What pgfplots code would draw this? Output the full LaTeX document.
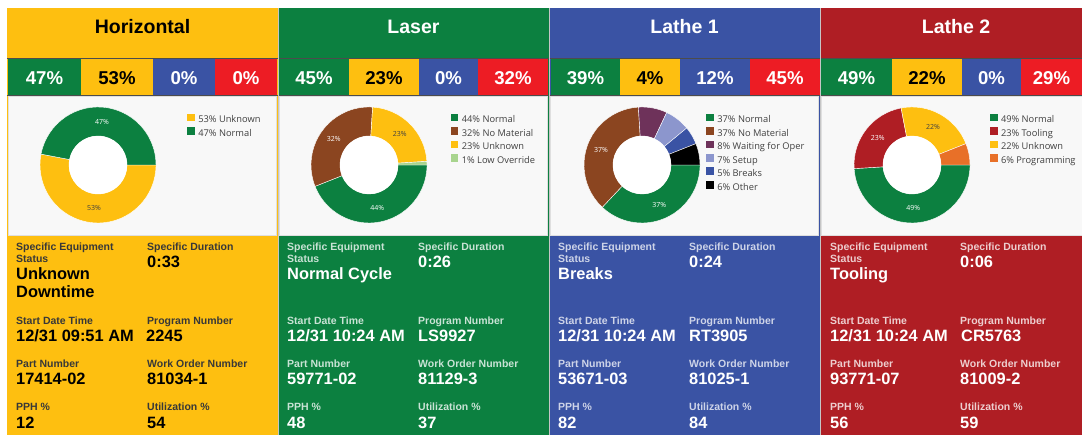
\documentclass[border=0pt]{standalone}
\usepackage{pgfplots}
\pgfplotsset{compat=1.18}
\usepackage{fontspec}
\setmainfont{Liberation Sans}
\newfontfamily\seg{Open Sans}
\definecolor{cY}{HTML}{FEBF10}
\definecolor{cG}{HTML}{0C8040}
\definecolor{cB}{HTML}{3A53A4}
\definecolor{cR}{HTML}{ED1C24}
\definecolor{cRd}{HTML}{AF1E24}
\definecolor{cBr}{HTML}{8B4520}
\definecolor{cLG}{HTML}{A8D48E}
\definecolor{cPu}{HTML}{6E325A}
\definecolor{cSe}{HTML}{8C96CD}
\definecolor{cOr}{HTML}{E87028}
\definecolor{cBg}{HTML}{F8F8F8}
\newcommand\fs[1]{\fontsize{#1}{#1}\selectfont}
% donut slice between cumulative percentages #1 and #2, clockwise from 3 o'clock
\newcommand\slice[3]{\fill[#3, draw=white, line width=0.4pt] (axis cs:{58*cos(-3.6*#1)},{58*sin(-3.6*#1)}) arc[start angle={-3.6*#1}, end angle={-3.6*#2}, radius=58] -- (axis cs:{29*cos(-3.6*#2)},{29*sin(-3.6*#2)}) arc[start angle={-3.6*#2}, end angle={-3.6*#1}, radius=29] -- cycle;}
\newcommand\slbl[3]{\node[font=\seg\fs{7}, text=#3, inner sep=0] at (axis cs:{43.5*cos(-3.6*#1)},{43.5*sin(-3.6*#1)}) {#2};}
\newcommand\hole{\fill[white] (axis cs:0,0) circle[radius=29];}
\newcommand\cell[5]{\fill[#3] (#1,340) rectangle (#2,377); \node[anchor=base, inner sep=0, text=#5, font=\bfseries\fs{18.6}] at ({(#1+#2)/2},350) {#4};}
\newcommand\lab[4]{\node[anchor=base west, inner sep=0, text=#4, font=\bfseries\fs{10.5}] at (#1,#2) {#3};}
\newcommand\val[4]{\node[anchor=base west, inner sep=0, text=#4, font=\bfseries\fs{16.4}] at (#1,#2) {#3};}
\pgfplotsset{donut/.style={hide axis, x=1pt, y=1pt, xmin=-60, xmax=60, ymin=-60, ymax=60, anchor=center, clip=false,
  legend cell align=left,
  legend image code/.code={\fill[##1] (0pt,-0.7pt) rectangle (7.6pt,6.9pt);},
  legend style={draw=none, fill=none, inner sep=0pt, anchor=north west, font=\seg\fs{9.3}, text=black!75,
    nodes={inner sep=1pt, text height=6.5pt, text depth=2pt}, row sep=1.3pt, column sep=2.5pt}}}
\begin{document}
\begin{tikzpicture}[x=1pt,y=1pt]
\useasboundingbox (0,0) rectangle (1082,435);
\fill[white] (0,0) rectangle (1082,435);
\coordinate (d1) at (98,270);
\coordinate (d2) at (369,270);
\coordinate (d3) at (642,270);
\coordinate (d4) at (912,270);
% panels
\fill[cY] (7,0) rectangle (278,427);
\fill[cG] (278,0) rectangle (549,427);
\fill[cB] (549,0) rectangle (820,427);
\fill[cRd] (820,0) rectangle (1082,427);
% titles
\node[anchor=base, inner sep=0, font=\bfseries\fs{19.5}, text=black] at (142.5,401.7) {Horizontal};
\node[anchor=base, inner sep=0, font=\bfseries\fs{19.5}, text=white] at (413.5,401.7) {Laser};
\node[anchor=base, inner sep=0, font=\bfseries\fs{19.5}, text=white] at (684.5,401.7) {Lathe 1};
\node[anchor=base, inner sep=0, font=\bfseries\fs{19.5}, text=white] at (956,401.7) {Lathe 2};
% strips
\cell{8}{81}{cG}{47\%}{white}\cell{81}{153}{cY}{53\%}{black}\cell{153}{215}{cB}{0\%}{white}\cell{215}{277}{cR}{0\%}{white}
\cell{279}{349}{cG}{45\%}{white}\cell{349}{419}{cY}{23\%}{black}\cell{419}{478}{cB}{0\%}{white}\cell{478}{548}{cR}{32\%}{white}
\cell{551}{620}{cG}{39\%}{white}\cell{620}{680}{cY}{4\%}{black}\cell{680}{750}{cB}{12\%}{white}\cell{750}{820}{cR}{45\%}{white}
\cell{821}{892}{cG}{49\%}{white}\cell{892}{962}{cY}{22\%}{black}\cell{962}{1021}{cB}{0\%}{white}\cell{1021}{1082}{cR}{29\%}{white}
\draw[black!70, line width=0.8pt] (7,377) -- (1082,377);
\draw[black!70, line width=0.8pt] (7,340) -- (1082,340);
% chart areas
\fill[cBg, draw=gray!25, line width=0.5pt] (8.5,200) rectangle (276.5,339);
\fill[cBg, draw=gray!25, line width=0.5pt] (279.5,200) rectangle (547.5,339);
\fill[cBg, draw=gray!25, line width=0.5pt] (550.5,200) rectangle (818.5,339);
\fill[cBg, draw=gray!25, line width=0.5pt] (821.5,200) rectangle (1083,339);
% separators
\draw[gray!45, line width=0.6pt] (278,0) -- (278,427);
\draw[gray!45, line width=0.6pt] (549,0) -- (549,427);
\draw[gray!45, line width=0.6pt] (820,0) -- (820,427);

% ---- donuts ----
\begin{axis}[donut, at={(d1)}, legend style={at={(1.2417,0.9292)}}]
\slice{0}{53}{cY}
\slice{53}{100}{cG}
\hole
\slbl{26.5}{53\%}{black!75}
\slbl{76.5}{47\%}{white}
\addlegendimage{fill=cY, draw=none}\addlegendentry{53\% Unknown}
\addlegendimage{fill=cG, draw=none}\addlegendentry{47\% Normal}
\end{axis}

\begin{axis}[donut, at={(d2)}, legend style={at={(1.1792,0.9292)}}]
\slice{0}{44}{cG}
\slice{44}{76}{cBr}
\slice{76}{99}{cY}
\slice{99}{100}{cLG}
\hole
\slbl{22}{44\%}{white}
\slbl{60}{32\%}{white}
\slbl{87.5}{23\%}{black!75}
\addlegendimage{fill=cG, draw=none}\addlegendentry{44\% Normal}
\addlegendimage{fill=cBr, draw=none}\addlegendentry{32\% No Material}
\addlegendimage{fill=cY, draw=none}\addlegendentry{23\% Unknown}
\addlegendimage{fill=cLG, draw=none}\addlegendentry{1\% Low Override}
\end{axis}

\begin{axis}[donut, at={(d3)}, legend style={at={(1.0333,0.9292)}}]
\slice{0}{37}{cG}
\slice{37}{74}{cBr}
\slice{74}{82}{cPu}
\slice{82}{89}{cSe}
\slice{89}{94}{cB}
\slice{94}{100}{black}
\hole
\slbl{18.5}{37\%}{white}
\slbl{55.5}{37\%}{white}
\addlegendimage{fill=cG, draw=none}\addlegendentry{37\% Normal}
\addlegendimage{fill=cBr, draw=none}\addlegendentry{37\% No Material}
\addlegendimage{fill=cPu, draw=none}\addlegendentry{8\% Waiting for Oper}
\addlegendimage{fill=cSe, draw=none}\addlegendentry{7\% Setup}
\addlegendimage{fill=cB, draw=none}\addlegendentry{5\% Breaks}
\addlegendimage{fill=black, draw=none}\addlegendentry{6\% Other}
\end{axis}

\begin{axis}[donut, at={(d4)}, legend style={at={(1.1475,0.9292)}}]
\slice{0}{49}{cG}
\slice{49}{72}{cRd}
\slice{72}{94}{cY}
\slice{94}{100}{cOr}
\hole
\slbl{24.5}{49\%}{white}
\slbl{60.5}{23\%}{white}
\slbl{83}{22\%}{black!75}
\addlegendimage{fill=cG, draw=none}\addlegendentry{49\% Normal}
\addlegendimage{fill=cRd, draw=none}\addlegendentry{23\% Tooling}
\addlegendimage{fill=cY, draw=none}\addlegendentry{22\% Unknown}
\addlegendimage{fill=cOr, draw=none}\addlegendentry{6\% Programming}
\end{axis}

% ---- info: Horizontal ----
\def\la{black!78}\def\va{black}
\lab{16}{184.3}{Specific Equipment}{\la}\lab{16}{172.7}{Status}{\la}
\val{16}{155}{Unknown}{\va}\val{16}{137.3}{Downtime}{\va}
\lab{147}{184.3}{Specific Duration}{\la}\val{147}{167.3}{0:33}{\va}
\lab{16}{110.7}{Start Date Time}{\la}\val{16}{93.3}{12/31 09:51 AM}{\va}
\lab{147}{110.7}{Program Number}{\la}\val{146}{93.3}{2245}{\va}
\lab{16}{67.3}{Part Number}{\la}\val{16}{50}{17414-02}{\va}
\lab{147}{67.3}{Work Order Number}{\la}\val{147}{50}{81034-1}{\va}
\lab{16}{24}{PPH \%}{\la}\val{16}{6.7}{12}{\va}
\lab{147}{24}{Utilization \%}{\la}\val{147}{6.7}{54}{\va}
% ---- info: Laser ----
\def\la{white!78!cG}\def\va{white}
\lab{287}{184.3}{Specific Equipment}{\la}\lab{287}{172.7}{Status}{\la}
\val{287}{155}{Normal Cycle}{\va}
\lab{418}{184.3}{Specific Duration}{\la}\val{418}{167.3}{0:26}{\va}
\lab{287}{110.7}{Start Date Time}{\la}\val{287}{93.3}{12/31 10:24 AM}{\va}
\lab{418}{110.7}{Program Number}{\la}\val{418}{93.3}{LS9927}{\va}
\lab{287}{67.3}{Part Number}{\la}\val{287}{50}{59771-02}{\va}
\lab{418}{67.3}{Work Order Number}{\la}\val{418}{50}{81129-3}{\va}
\lab{287}{24}{PPH \%}{\la}\val{287}{6.7}{48}{\va}
\lab{418}{24}{Utilization \%}{\la}\val{418}{6.7}{37}{\va}
% ---- info: Lathe 1 ----
\def\la{white!75!cB}\def\va{white}
\lab{558}{184.3}{Specific Equipment}{\la}\lab{558}{172.7}{Status}{\la}
\val{558}{155}{Breaks}{\va}
\lab{689}{184.3}{Specific Duration}{\la}\val{689}{167.3}{0:24}{\va}
\lab{558}{110.7}{Start Date Time}{\la}\val{558}{93.3}{12/31 10:24 AM}{\va}
\lab{689}{110.7}{Program Number}{\la}\val{689}{93.3}{RT3905}{\va}
\lab{558}{67.3}{Part Number}{\la}\val{558}{50}{53671-03}{\va}
\lab{689}{67.3}{Work Order Number}{\la}\val{689}{50}{81025-1}{\va}
\lab{558}{24}{PPH \%}{\la}\val{558}{6.7}{82}{\va}
\lab{689}{24}{Utilization \%}{\la}\val{689}{6.7}{84}{\va}
% ---- info: Lathe 2 ----
\def\la{white!78!cRd}\def\va{white}
\lab{830}{184.3}{Specific Equipment}{\la}\lab{830}{172.7}{Status}{\la}
\val{830}{155}{Tooling}{\va}
\lab{960}{184.3}{Specific Duration}{\la}\val{960}{167.3}{0:06}{\va}
\lab{830}{110.7}{Start Date Time}{\la}\val{830}{93.3}{12/31 10:24 AM}{\va}
\lab{960}{110.7}{Program Number}{\la}\val{961}{93.3}{CR5763}{\va}
\lab{830}{67.3}{Part Number}{\la}\val{830}{50}{93771-07}{\va}
\lab{960}{67.3}{Work Order Number}{\la}\val{960}{50}{81009-2}{\va}
\lab{830}{24}{PPH \%}{\la}\val{830}{6.7}{56}{\va}
\lab{960}{24}{Utilization \%}{\la}\val{960}{6.7}{59}{\va}
\end{tikzpicture}
\end{document}
